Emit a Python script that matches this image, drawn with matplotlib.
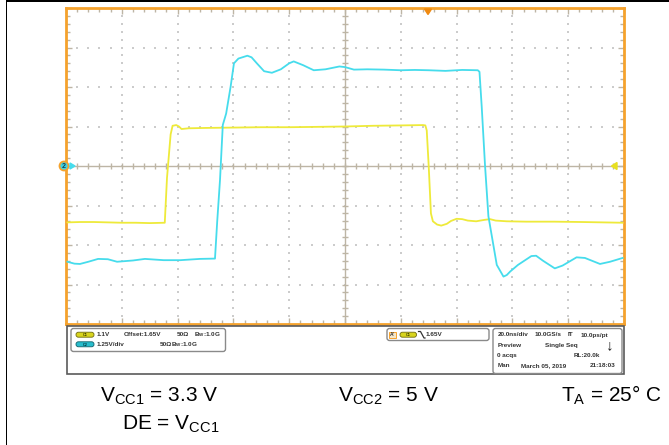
import numpy as np
import matplotlib.pyplot as plt
from matplotlib.patches import FancyBboxPatch, Circle, Rectangle, Polygon

plt.rcParams['font.family'] = ['Liberation Sans', 'DejaVu Sans']
plt.rcParams['mathtext.fontset'] = 'custom'
plt.rcParams['mathtext.rm'] = 'Liberation Sans'
plt.rcParams['mathtext.it'] = 'Liberation Sans:italic'
plt.rcParams['mathtext.bf'] = 'Liberation Sans:bold'

# scope settings
ch1_v_per_div = 1.1
ch1_offset = 1.65
ch2_v_per_div = 1.25

# channel 1 (yellow): time in ns, volts
ch1_t = [-99.5, -95, -90, -85, -80, -75, -70, -64.6, -63.8, -62.5, -61.8, -60.5, -59.5,
         -58.6, -56, -50, -40, -30, -20, -10, 0, 10, 20, 28, 28.8, 29.3, 30, 30.8, 31.5,
         33, 34.5, 36.5, 38, 40, 42, 44, 47, 50, 52, 54, 58, 65, 75, 85, 99.5]
ch1_v = [0.08, 0.09, 0.09, 0.08, 0.07, 0.07, 0.06, 0.07, 1.32, 2.53, 2.77, 2.79, 2.75,
         2.68, 2.70, 2.71, 2.72, 2.73, 2.73, 2.74, 2.75, 2.77, 2.78, 2.79, 2.78, 2.64, 1.65,
         0.33, 0.11, 0.02, -0.01, 0.04, 0.12, 0.18, 0.17, 0.13, 0.11, 0.15, 0.17, 0.13,
         0.11, 0.10, 0.10, 0.09, 0.07]

# channel 2 (cyan): time in ns, volts
ch2_t = [-99.5, -97, -95, -92, -88.5, -85, -81.7, -76, -71.7, -65, -59, -52, -46.6, -45.8,
         -44.8, -43.8, -42.6, -41, -39.8, -38.2, -35, -33.5, -31.6, -29, -26.2, -23, -20,
         -18.4, -15, -11.2, -7, -2, 0, 3.2, 8, 14, 20, 25, 30, 36, 42, 47.6, 48.2, 49, 50.2,
         51.4, 54.4, 56.8, 58, 59.2, 62, 66.8, 68.5, 71, 75.2, 78, 83, 86, 91.4, 95, 99.5]
ch2_v = [-3.03, -3.09, -3.10, -3.03, -2.94, -2.95, -3.03, -2.99, -2.94, -2.98, -2.98, -2.94,
         -2.93, -1.75, -0.44, 1.30, 1.66, 2.51, 3.25, 3.40, 3.49, 3.44, 3.25, 3.00, 2.95,
         3.06, 3.25, 3.31, 3.19, 3.03, 3.06, 3.15, 3.13, 3.05, 3.06, 3.05, 3.03, 3.04, 3.03,
         3.01, 3.04, 3.03, 2.98, 1.88, 0.0, -1.59, -3.13, -3.50, -3.45, -3.34, -3.13, -2.85,
         -2.84, -3.00, -3.24, -3.15, -2.89, -2.91, -3.10, -3.03, -2.91]

W, H = 669, 445
orange = '#f5a22d'
yellow = '#eeea3a'
cyan = '#46dcec'
grid_c = '#bdb5a5'

fig = plt.figure(figsize=(W / 100, H / 100), dpi=100)
ax = fig.add_axes([66 / W, 1 - 324 / H, (624 - 66) / W, (324 - 8) / H])
ax.set_xlim(-100, 100)
ax.set_ylim(-4, 4)

# dotted graticule
gx, gy = np.meshgrid([-80, -60, -40, -20, 20, 40, 60, 80], np.arange(-4, 4.01, 0.2))
ax.scatter(gx.ravel(), gy.ravel(), s=1.2, marker='s', color='#cccccc', linewidths=0, zorder=1)
gx, gy = np.meshgrid(np.arange(-100, 100.1, 4), [-3, -2, -1, 1, 2, 3])
ax.scatter(gx.ravel(), gy.ravel(), s=1.2, marker='s', color='#cccccc', linewidths=0, zorder=1)

# center cross with ticks
ax.axhline(0, color=grid_c, lw=1, zorder=1)
ax.axvline(0, color=grid_c, lw=1, zorder=1)
ax.vlines(np.arange(-100, 101, 4), -0.07, 0.07, color=grid_c, lw=1, zorder=1)
ax.hlines(np.arange(-4, 4.01, 0.2), -1.0, 1.0, color=grid_c, lw=1, zorder=1)

ax.set_xticks(np.arange(-100, 101, 20))
ax.set_xticks(np.arange(-100, 101, 4), minor=True)
ax.set_yticks(np.arange(-4, 5, 1))
ax.set_yticks(np.arange(-4, 4.01, 0.2), minor=True)
ax.tick_params(which='both', direction='in', top=True, right=True, bottom=True, left=True,
               labelbottom=False, labelleft=False, color=grid_c, width=1)
ax.tick_params(which='major', length=4)
ax.tick_params(which='minor', length=3)
for s in ax.spines.values():
    s.set_color(orange)
    s.set_linewidth(2)

ax.plot(ch1_t, (np.array(ch1_v) - ch1_offset) / ch1_v_per_div, color=yellow, lw=1.3, zorder=3)
ax.plot(ch2_t, np.array(ch2_v) / ch2_v_per_div, color=cyan, lw=1.3, zorder=4)

# overlay in pixel coordinates for the scope decorations and captions
ov = fig.add_axes([0, 0, 1, 1], zorder=5)
ov.set_xlim(0, W)
ov.set_ylim(H, 0)
ov.axis('off')
ov.patch.set_alpha(0)

# thin black frame of the screenshot (left and top)
ov.add_patch(Rectangle((6, 0), 1.2, H, facecolor='black', linewidth=0))
ov.add_patch(Rectangle((6, 0.4), W - 6, 1.2, facecolor='black', linewidth=0))

# channel 2 ground marker, trigger markers
ov.add_patch(Circle((64, 166), 4.5, facecolor='#3fd4e4', edgecolor=orange, lw=1.3))
ov.text(64, 166.3, '2', fontsize=5, fontweight='bold', color='#1d4048', ha='center', va='center')
ov.add_patch(Polygon([(70, 163), (70, 169), (75, 166)], color=cyan))
ov.add_patch(Polygon([(617, 162.5), (617, 169.5), (611.5, 166)], color='#e8e020'))
ov.add_patch(Polygon([(424.5, 9), (431.5, 9), (428, 14.5)], color='#f08a10'))

# status panel
ov.add_patch(Rectangle((67, 326), 557, 47.5, facecolor='white', edgecolor='#5a5a5a', lw=1.2))
box = dict(boxstyle='round,pad=0,rounding_size=2.5', facecolor='white', edgecolor='#8a8a8a', lw=1)
ov.add_patch(FancyBboxPatch((71, 328.5), 154.5, 23, **box))
ov.add_patch(FancyBboxPatch((387, 328.5), 102, 12, **box))
ov.add_patch(FancyBboxPatch((493, 328.5), 129, 45, **box))

badge = dict(boxstyle='round,pad=0,rounding_size=2.4', lw=0.6)
ov.add_patch(FancyBboxPatch((76, 332.2), 18, 5, facecolor='#d8d41e', edgecolor='#6e6a10', **badge))
ov.add_patch(FancyBboxPatch((76, 341.8), 18, 5, facecolor='#28bccc', edgecolor='#10606a', **badge))
ov.add_patch(FancyBboxPatch((400, 332.2), 16.5, 5, facecolor='#d8d41e', edgecolor='#6e6a10', **badge))
ov.text(85, 334.9, 'C1', fontsize=2.8, fontweight='bold', color='#404000', ha='center', va='center')
ov.text(85, 344.5, 'C2', fontsize=2.8, fontweight='bold', color='#003840', ha='center', va='center')
ov.text(408.2, 334.9, 'C1', fontsize=2.8, fontweight='bold', color='#404000', ha='center', va='center')
ov.add_patch(Rectangle((389, 331.5), 7, 6.5, facecolor='#f4e6c8', edgecolor=orange, lw=0.7))
ov.text(392.5, 335, "A'", fontsize=3.6, fontweight='bold', color='#333333', ha='center', va='center')
ov.plot([418.5, 420.5, 424, 425], [331.5, 331.5, 338, 338], color='#333333', lw=0.9)

info = dict(fontsize=4.6, fontweight='bold', color='#333333', va='center')
ov.text(96.7, 334.7, '1.1V', **info)
ov.text(123.3, 334.7, 'Offset:1.65V', **info)
ov.text(176.7, 334.7, '50\u03a9', **info)
ov.text(194.3, 334.7, r'$\mathregular{B_W}$:1.0G', **info)
ov.text(96.7, 344.3, '1.25V/div', **info)
ov.text(159.3, 344.3, '50\u03a9', **info)
ov.text(171, 344.3, r'$\mathregular{B_W}$:1.0G', **info)
ov.text(425.7, 334.7, '1.65V', **info)

ov.text(497.3, 335, '20.0ns/div', **info)
ov.text(535, 335, '10.0GS/s', **info)
ov.text(567.7, 335, 'IT', **info)
ov.text(581, 335, '10.0ps/pt', **info)
ov.text(497.3, 345.3, 'Preview', **info)
ov.text(545, 345.3, 'Single Seq', **info)
ov.text(606, 345.3, '\u2193', fontsize=11, fontweight='bold', color='#222222', va='center')
ov.text(497.3, 355.3, '0 acqs', **info)
ov.text(573.3, 355.3, 'RL:20.0k', **info)
ov.text(497.3, 365.3, 'Man', **info)
ov.text(521, 365.3, 'March 05, 2019', **info)
ov.text(589.3, 365.3, '21:18:03', **info)

# captions
cap = dict(fontsize=15, color='black', va='baseline', ha='left')
ov.text(100, 401.7, r'$\mathregular{V_{CC1}}$ = 3.3 V', **cap)
ov.text(121.7, 430, r'DE = $\mathregular{V_{CC1}}$', **cap)
ov.text(338, 401.7, r'$\mathregular{V_{CC2}}$ = 5 V', **cap)
ov.text(560.7, 401.7, r'$\mathregular{T_A}$ = 25° C', **cap)

fig.savefig('out.png', dpi=100, facecolor='white')
